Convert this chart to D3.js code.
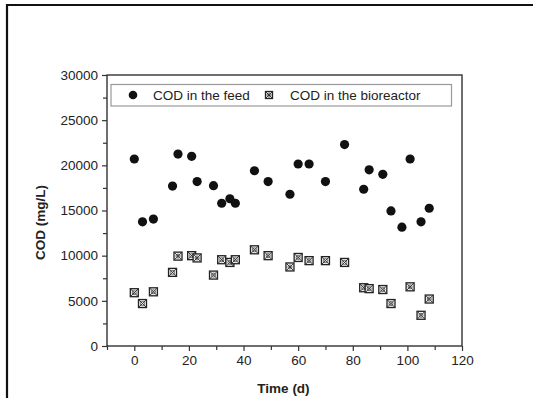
<!DOCTYPE html>
<html>
<head>
<meta charset="utf-8">
<script src="https://cdn.jsdelivr.net/npm/d3@7"></script>
<style>
  html, body { margin: 0; padding: 0; background: #fff; }
  svg { display: block; }
  text { font-family: "Liberation Sans", Arial, sans-serif; fill: #222; }
</style>
</head>
<body>
<div id="chart"></div>
<script>
// Data
const feedDays = [0, 3, 7, 14, 16, 21, 23, 29, 32, 35, 37, 44, 49, 57, 60, 64, 70, 77, 84, 86, 91, 94, 98, 101, 105, 108];
const feedCOD  = [20700, 13750, 14050, 17700, 21250, 21000, 18200, 17750, 15800, 16300, 15800, 19400, 18200, 16800, 20150, 20150, 18200, 22300, 17350, 19500, 19000, 14950, 13150, 20700, 13750, 15250];
const bioDays  = [0, 3, 7, 14, 16, 21, 23, 29, 32, 35, 37, 44, 49, 57, 60, 64, 70, 77, 84, 86, 91, 94, 101, 105, 108];
const bioCOD   = [5900, 4700, 6000, 8150, 9950, 10000, 9750, 7850, 9550, 9250, 9550, 10650, 10000, 8750, 9800, 9450, 9450, 9250, 6450, 6350, 6250, 4700, 6550, 3400, 5200];
const xTicks = [0, 20, 40, 60, 80, 100, 120];
const yTicks = [0, 5000, 10000, 15000, 20000, 25000, 30000];
const legendLabels = ["COD in the feed", "COD in the bioreactor"];

const W = 533, H = 398;
const plot = { left: 107, right: 462, top: 75, bottom: 346 };

const svg = d3.select("#chart").append("svg").attr("width", W).attr("height", H);

// Outer frame
svg.append("path")
  .attr("d", `M7,${H + 2} V5 H${W + 2}`)
  .attr("fill", "none").attr("stroke", "#111").attr("stroke-width", 2.2);

const x = d3.scaleLinear().domain([-10, 120]).range([plot.left, plot.right]);
const y = d3.scaleLinear().domain([0, 30000]).range([plot.bottom, plot.top]);

// Minor ticks
const xMinor = d3.range(-10, 121, 10).filter(v => v % 20 !== 0);
const yMinor = d3.range(2500, 30000, 5000);

const xAxis = svg.append("g").attr("transform", `translate(0,${plot.bottom})`)
  .call(d3.axisBottom(x).tickValues(xTicks).tickSize(5).tickPadding(4).tickFormat(d3.format("d")));
svg.append("g").attr("transform", `translate(0,${plot.bottom})`)
  .call(d3.axisBottom(x).tickValues(xMinor).tickSize(4).tickFormat(""));

const yAxis = svg.append("g").attr("transform", `translate(${plot.left},0)`)
  .call(d3.axisLeft(y).tickValues(yTicks).tickSize(5).tickPadding(4).tickFormat(d3.format("d")));
svg.append("g").attr("transform", `translate(${plot.left},0)`)
  .call(d3.axisLeft(y).tickValues(yMinor).tickSize(4).tickFormat(""));

svg.selectAll(".domain").remove();
svg.selectAll(".tick line").attr("stroke", "#333").attr("stroke-width", 1.2);
svg.selectAll(".tick text").attr("font-size", 13.5).attr("fill", "#222")
  .attr("font-family", "'Liberation Sans', Arial, sans-serif");

// Plot frame
svg.append("rect")
  .attr("x", plot.left).attr("y", plot.top)
  .attr("width", plot.right - plot.left).attr("height", plot.bottom - plot.top)
  .attr("fill", "none").attr("stroke", "#333").attr("stroke-width", 1.4);

// Axis titles
svg.append("text")
  .attr("x", (plot.left + plot.right) / 2 - 1).attr("y", 393)
  .attr("text-anchor", "middle").attr("font-size", 13.5).attr("font-weight", "bold")
  .text("Time (d)");
svg.append("text")
  .attr("transform", `translate(45,${(plot.top + plot.bottom) / 2 + 12}) rotate(-90)`)
  .attr("text-anchor", "middle").attr("font-size", 13.5).attr("font-weight", "bold")
  .text("COD (mg/L)");

// Marker drawer for bioreactor
function crossSquare(g, cx, cy, s) {
  const h = s / 2;
  g.append("rect").attr("x", cx - h).attr("y", cy - h).attr("width", s).attr("height", s)
    .attr("fill", "#f2f2f2").attr("stroke", "#222").attr("stroke-width", 1.3);
  g.append("path")
    .attr("d", `M${cx - h},${cy - h}L${cx + h},${cy + h}M${cx + h},${cy - h}L${cx - h},${cy + h}`)
    .attr("stroke", "#333").attr("stroke-width", 1);
  g.append("circle").attr("cx", cx).attr("cy", cy).attr("r", 2)
    .attr("fill", "none").attr("stroke", "#444").attr("stroke-width", 0.8);
}

// Legend
const lg = svg.append("g");
lg.append("rect").attr("x", 111).attr("y", 84.5).attr("width", 340.5).attr("height", 21.5)
  .attr("fill", "none").attr("stroke", "#999").attr("stroke-width", 1.2);
lg.append("circle").attr("cx", 133).attr("cy", 95).attr("r", 4.3).attr("fill", "#111");
lg.append("text").attr("x", 153).attr("y", 100).attr("font-size", 13.5).text(legendLabels[0]);
crossSquare(lg, 269, 95, 7);
lg.append("text").attr("x", 290).attr("y", 100).attr("font-size", 13.5).text(legendLabels[1]);

// Bioreactor points
const bioG = svg.append("g");
bioDays.forEach((d, i) => crossSquare(bioG, x(d), y(bioCOD[i]), 8));

// Feed points
svg.append("g").selectAll("circle")
  .data(feedDays.map((d, i) => [d, feedCOD[i]]))
  .join("circle")
  .attr("cx", d => x(d[0])).attr("cy", d => y(d[1])).attr("r", 4.6)
  .attr("fill", "#111");
</script>
</body>
</html>
